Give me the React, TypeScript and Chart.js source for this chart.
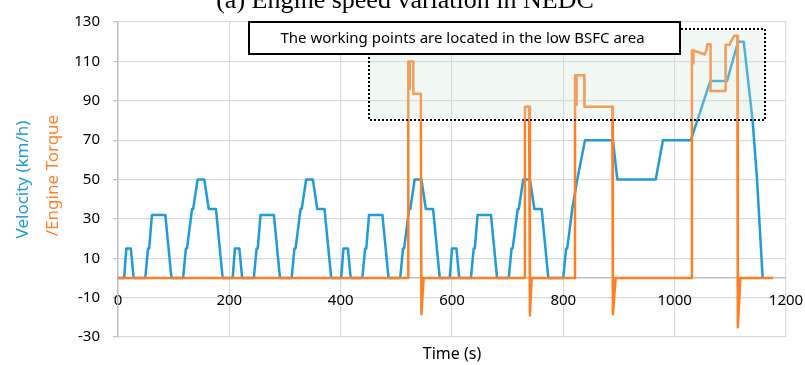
import React, { useEffect, useRef } from "react";
import { Chart, registerables } from "chart.js";

Chart.register(...registerables);

// ---- Data ----
const velTime = [
  0, 11, 15, 23, 28, 49, 54, 56, 61, 85, 96, 117, 122, 124, 133, 135, 143, 155, 163, 176, 188, 195,
  206, 210, 218, 223, 244, 249, 251, 256, 280, 291, 312, 317, 319, 328, 330, 338, 350, 358, 371, 383, 390,
  401, 405, 413, 418, 439, 444, 446, 451, 475, 486, 507, 512, 514, 523, 525, 533, 545, 553, 566, 578, 585,
  596, 600, 608, 613, 634, 639, 641, 646, 670, 681, 702, 707, 709, 718, 720, 728, 740, 748, 761, 773, 780,
  800, 805, 807, 816, 817, 825, 826, 839, 889, 897, 966, 979, 1029, 1064, 1094, 1114, 1124, 1140, 1148, 1158,
];
const velSpeed = [
  0, 0, 15, 15, 0, 0, 15, 15, 32, 32, 0, 0, 15, 15, 35, 35, 50, 50, 35, 35, 0, 0,
  0, 15, 15, 0, 0, 15, 15, 32, 32, 0, 0, 15, 15, 35, 35, 50, 50, 35, 35, 0, 0,
  0, 15, 15, 0, 0, 15, 15, 32, 32, 0, 0, 15, 15, 35, 35, 50, 50, 35, 35, 0, 0,
  0, 15, 15, 0, 0, 15, 15, 32, 32, 0, 0, 15, 15, 35, 35, 50, 50, 35, 35, 0, 0,
  0, 15, 15, 35, 35, 50, 50, 70, 70, 50, 50, 70, 70, 100, 100, 120, 120, 80, 50, 0,
];

const torqueTime = [
  0, 521.5, 521.5, 523.5, 524, 524.5, 530.5, 530.5, 544, 545, 549,
  731, 731, 738.5, 740, 743,
  821, 821, 823, 823.5, 824, 837.5, 838, 888, 889, 894,
  1031, 1031, 1033, 1033.5, 1034, 1054, 1057.5, 1058.5, 1064.5, 1064.5, 1091.5, 1091.5, 1099, 1100, 1107, 1112.5, 1113.5, 1118, 1177,
];
const torqueValue = [
  0, 0, 110, 110, 96, 110, 110, 93.5, 93.5, -18.5, 0,
  0, 87, 87, -19, 0,
  0, 103, 103, 88, 103, 103, 87, 87, -18.5, 0,
  0, 115.5, 115.5, 109, 115.5, 113.5, 116, 118.7, 118.7, 95, 95, 118.5, 118.5, 119.5, 123, 123, -25, 0, 0,
];

const xTicksRange = [0, 1200];
const xStep = 200;
const yRange = [-30, 130];
const yStep = 20;

// annotation regions in data units
const regionX = [450, 1162];
const regionY = [80.5, 126.5];
const noteX = [235, 1010];
const noteY = [113.7, 130];
const noteText = "The working points are located in the low BSFC area";

const titleText = "(a) Engine speed variation in NEDC";
const yTitleBlue = "Velocity (km/h)";
const yTitleOrange = "/Engine Torque";
const xTitle = "Time (s)";

const BLUE = "#1f9bd7";
const ORANGE = "#ff7f27";
const FONT = "'Noto Sans', sans-serif";

const overlayPlugin = {
  id: "overlayPlugin",
  afterDatasetsDraw(chart: any) {
    const { ctx, scales } = chart;
    const x = scales.x;
    const y = scales.y;
    ctx.save();
    // low BSFC region
    const l = x.getPixelForValue(regionX[0]);
    const r = x.getPixelForValue(regionX[1]);
    const t = y.getPixelForValue(regionY[1]);
    const b = y.getPixelForValue(regionY[0]);
    ctx.fillStyle = "rgba(208,228,212,0.3)";
    ctx.fillRect(l, t, r - l, b - t);
    ctx.setLineDash([2, 2]);
    ctx.lineWidth = 2;
    ctx.strokeStyle = "#000";
    ctx.strokeRect(Math.round(l), Math.round(t), Math.round(r - l), Math.round(b - t));
    ctx.setLineDash([]);
    // note box
    const nl = x.getPixelForValue(noteX[0]);
    const nr = x.getPixelForValue(noteX[1]);
    const nt = y.getPixelForValue(noteY[1]);
    const nb = y.getPixelForValue(noteY[0]);
    ctx.fillStyle = "#fff";
    ctx.fillRect(nl, nt, nr - nl, nb - nt);
    ctx.lineWidth = 2;
    ctx.strokeStyle = "#000";
    ctx.strokeRect(Math.round(nl), Math.round(nt), Math.round(nr - nl), Math.round(nb - nt));
    ctx.fillStyle = "#000";
    ctx.font = `15px ${FONT}`;
    ctx.textAlign = "center";
    ctx.textBaseline = "middle";
    ctx.fillText(noteText, (nl + nr) / 2 - 2, (nt + nb) / 2 + 1);
    ctx.restore();
  },
  afterDraw(chart: any) {
    const { ctx, chartArea } = chart;
    ctx.save();
    // top (cropped) title
    ctx.fillStyle = "#000";
    ctx.font = `26px 'Liberation Serif', serif`;
    ctx.textAlign = "center";
    ctx.textBaseline = "alphabetic";
    ctx.fillText(titleText, 405, 8);
    // x title
    ctx.font = `16px ${FONT}`;
    ctx.textBaseline = "middle";
    ctx.fillText(xTitle, (chartArea.left + chartArea.right) / 2, 354);
    // y title two colored lines
    const cy = (chartArea.top + chartArea.bottom) / 2;
    ctx.font = `17px ${FONT}`;
    ctx.save();
    ctx.translate(23, cy);
    ctx.rotate(-Math.PI / 2);
    ctx.fillStyle = BLUE;
    ctx.fillText(yTitleBlue, 0, 0);
    ctx.restore();
    ctx.save();
    ctx.translate(53, cy - 4);
    ctx.rotate(-Math.PI / 2);
    ctx.fillStyle = ORANGE;
    ctx.fillText(yTitleOrange, 0, 0);
    ctx.restore();
    ctx.restore();
  },
};

export default function App() {
  const ref = useRef<HTMLCanvasElement>(null);
  useEffect(() => {
    if (!ref.current) return;
    Chart.defaults.font.family = FONT;
    const velData = velTime.map((t, i) => ({ x: t, y: velSpeed[i] }));
    const torqueData = torqueTime.map((t, i) => ({ x: t, y: torqueValue[i] }));
    const chart = new Chart(ref.current, {
      type: "scatter",
      data: {
        datasets: [
          {
            label: "Engine Torque",
            data: torqueData,
            showLine: true,
            borderColor: ORANGE,
            backgroundColor: ORANGE,
            borderWidth: 2.5,
            pointRadius: 0,
            tension: 0,
            borderJoinStyle: "round",
          } as any,
          {
            label: "Velocity",
            data: velData,
            showLine: true,
            borderColor: BLUE,
            backgroundColor: BLUE,
            borderWidth: 2.5,
            pointRadius: 0,
            tension: 0,
            borderJoinStyle: "round",
          } as any,
        ],
      },
      options: {
        responsive: false,
        maintainAspectRatio: false,
        animation: false,
        layout: { padding: { left: 0, right: 19, top: 22, bottom: 28 } },
        plugins: { legend: { display: false }, tooltip: { enabled: false } },
        scales: {
          x: {
            type: "linear",
            axis: "x",
            position: { y: 0 } as any,
            min: xTicksRange[0],
            max: xTicksRange[1],
            ticks: {
              stepSize: xStep,
              color: "#000",
              font: { size: 15 },
              padding: 14,
              maxRotation: 0,
              callback: (v: any) => String(v),
            },
            grid: { color: "#d9d9d9", drawTicks: false, lineWidth: 1.2 },
            border: { display: true, color: "#bfbfbf", width: 1.5 },
            afterFit: (s: any) => {
              s.paddingRight = 0;
              s.paddingLeft = 0;
            },
          },
          y: {
            type: "linear",
            position: "left",
            min: yRange[0],
            max: yRange[1],
            ticks: { stepSize: yStep, color: "#000", font: { size: 15 }, padding: 13, callback: (v: any) => String(v) },
            grid: { color: "#d9d9d9", tickLength: 5, tickColor: "#bfbfbf", lineWidth: 1.2 },
            border: { display: true, color: "#bfbfbf", width: 1.5 },
            afterFit: (s: any) => {
              s.width = 118;
            },
          },
        } as any,
      },
      plugins: [overlayPlugin],
    });
    return () => chart.destroy();
  }, []);
  return (
    <div style={{ position: "fixed", left: 0, top: 0, width: 805, height: 365, background: "#fff" }}>
      <canvas ref={ref} width={805} height={365} style={{ display: "block" }} />
    </div>
  );
}
